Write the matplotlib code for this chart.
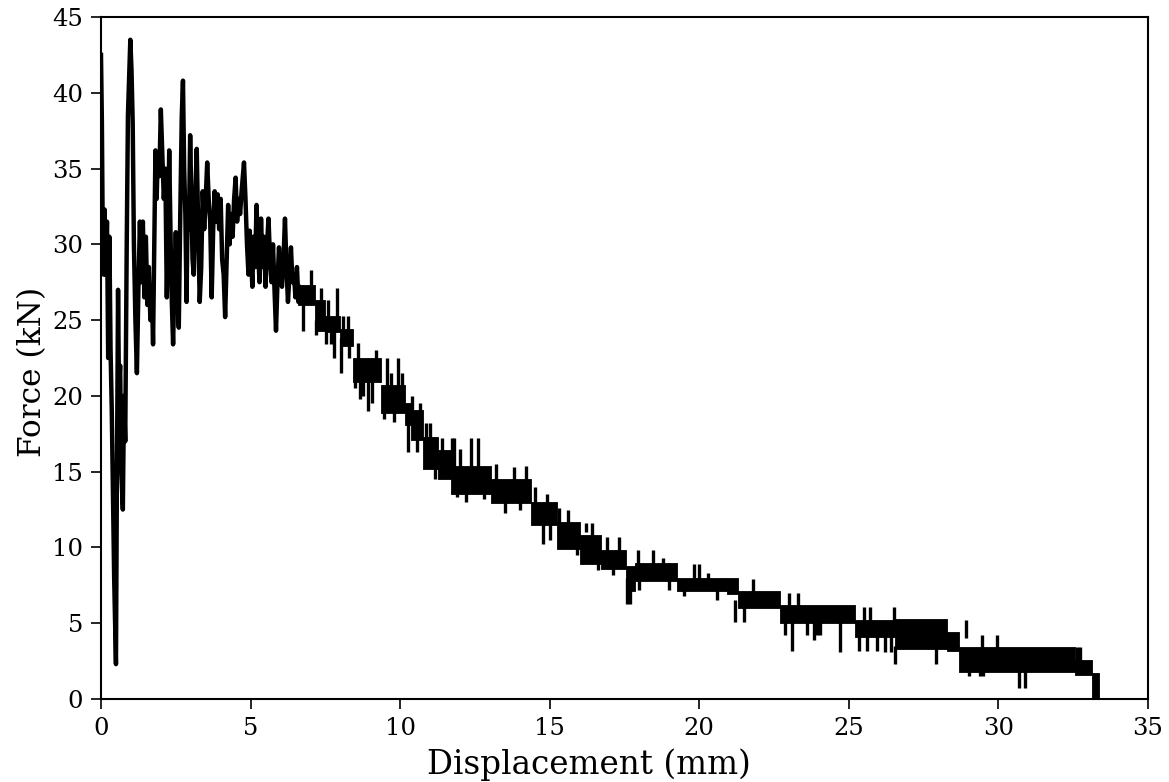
import matplotlib
matplotlib.use('Agg')
import matplotlib.pyplot as plt

# early, strongly oscillating part of the trace: (displacement mm, force kN)
early_pts = [
    (0.0, 42.5), (0.03, 38.0), (0.06, 30.0), (0.09, 28.0), (0.12, 32.3), (0.16, 28.0),
    (0.2, 31.5), (0.24, 22.5), (0.28, 30.5), (0.32, 23.0), (0.36, 19.0), (0.44, 8.0),
    (0.5, 2.3), (0.53, 14.0), (0.57, 27.0), (0.6, 20.5), (0.64, 22.0), (0.68, 15.0),
    (0.73, 12.5), (0.77, 20.0), (0.81, 17.0), (0.86, 30.0), (0.9, 38.5), (0.95, 41.5),
    (0.98, 43.5), (1.02, 41.5), (1.06, 38.0), (1.1, 30.0), (1.15, 25.0), (1.2, 21.5),
    (1.25, 27.0), (1.3, 31.5), (1.35, 27.5), (1.4, 31.5), (1.45, 26.5), (1.5, 30.5),
    (1.55, 26.0), (1.6, 28.5), (1.65, 25.0), (1.7, 27.0), (1.74, 23.4), (1.78, 30.0),
    (1.82, 36.2), (1.86, 33.0), (1.9, 36.0), (1.95, 34.5), (2.0, 38.9), (2.05, 36.0),
    (2.1, 33.0), (2.15, 35.0), (2.2, 26.5), (2.25, 32.0), (2.28, 36.2), (2.33, 30.0),
    (2.37, 26.0), (2.41, 23.4), (2.46, 28.0), (2.5, 30.8), (2.55, 27.0), (2.6, 24.5),
    (2.65, 32.0), (2.7, 38.5), (2.74, 40.8), (2.78, 35.0), (2.82, 32.0), (2.86, 26.2),
    (2.9, 33.0), (2.94, 31.0), (2.98, 37.2), (3.02, 33.0), (3.06, 29.0), (3.1, 28.0),
    (3.15, 33.0), (3.2, 36.3), (3.25, 31.0), (3.3, 26.2), (3.35, 28.5), (3.4, 33.5),
    (3.45, 31.0), (3.5, 33.0), (3.55, 35.4), (3.6, 33.0), (3.65, 31.5), (3.7, 26.5),
    (3.75, 31.0), (3.8, 33.5), (3.85, 31.5), (3.9, 33.3), (3.95, 31.0), (4.0, 33.0),
    (4.05, 29.0), (4.1, 28.0), (4.15, 25.2), (4.2, 29.0), (4.25, 32.6), (4.3, 30.0),
    (4.35, 32.0), (4.4, 30.5), (4.45, 33.0), (4.5, 34.4), (4.55, 31.5), (4.6, 33.0),
    (4.65, 32.0), (4.7, 33.5), (4.78, 35.4), (4.83, 33.0), (4.88, 30.0), (4.93, 28.0),
    (4.97, 30.9), (5.02, 29.0), (5.06, 27.2), (5.1, 30.5), (5.15, 28.5), (5.2, 32.6),
    (5.25, 29.5), (5.3, 27.5), (5.35, 31.7), (5.4, 28.5), (5.45, 30.5), (5.5, 27.2),
    (5.55, 30.0), (5.6, 31.7), (5.65, 29.0), (5.7, 27.5), (5.75, 30.0), (5.8, 27.0),
    (5.85, 24.3), (5.9, 27.5), (5.95, 29.8), (6.0, 28.0), (6.05, 27.2), (6.1, 29.0),
    (6.15, 31.7), (6.2, 28.5), (6.25, 26.2), (6.3, 28.0), (6.35, 29.8), (6.4, 27.5),
    (6.45, 28.0), (6.5, 26.5), (6.55, 28.5), (6.6, 26.2), (6.65, 27.2), (6.7, 26.5),
]

# later part: the signal toggles between quantised levels -> solid bands
# (x start, x end, low kN, high kN)
bands = [
    (6.6, 7.15, 26.0, 27.3), (7.15, 7.48, 24.3, 26.3), (7.48, 7.98, 24.2, 25.3),
    (7.98, 8.42, 23.3, 24.4), (8.42, 9.35, 20.9, 22.5), (9.35, 10.15, 18.9, 20.7),
    (10.15, 10.35, 18.1, 19.5), (10.35, 10.75, 17.1, 19.1), (10.75, 11.26, 15.2, 17.3),
    (11.26, 11.69, 14.5, 16.4), (11.69, 13.03, 13.5, 15.4), (13.03, 14.36, 12.9, 14.5),
    (14.36, 15.26, 11.5, 13.0), (15.26, 16.0, 9.9, 11.7), (16.0, 16.7, 8.9, 10.8),
    (16.7, 17.54, 8.6, 9.8), (17.54, 17.84, 7.1, 8.8), (17.84, 19.27, 7.8, 9.0),
    (19.27, 20.94, 7.1, 8.0), (20.94, 21.28, 6.9, 8.0), (21.28, 22.71, 6.0, 7.1),
    (22.71, 25.22, 5.0, 6.2), (25.22, 26.55, 4.1, 5.2), (26.55, 28.29, 3.3, 5.3),
    (28.29, 28.69, 3.2, 4.4), (28.69, 32.57, 1.8, 3.4), (32.57, 33.13, 1.6, 2.6),
    (33.13, 33.37, 0.0, 1.7),
]

# isolated spikes out of the bands: (x, low kN, high kN)
spikes = [
    (6.75, 24.3, 26.5), (7.01, 26.5, 28.3), (7.2, 24.0, 25.0), (7.35, 25.5, 27.1),
    (7.52, 23.4, 24.5), (7.6, 24.8, 26.3), (7.7, 23.4, 24.5), (7.78, 22.5, 24.5),
    (7.88, 24.8, 27.1), (8.02, 21.5, 23.8), (8.1, 24.0, 25.3), (8.25, 24.0, 25.3),
    (8.3, 22.5, 24.0), (8.5, 20.5, 21.5), (8.6, 22.0, 23.5), (8.65, 19.8, 21.5),
    (8.75, 20.0, 21.5), (8.92, 19.0, 21.5), (9.05, 19.5, 21.5), (9.2, 22.0, 23.0),
    (9.45, 18.5, 19.5), (9.55, 20.0, 22.5), (9.7, 20.0, 21.5), (9.8, 18.3, 19.5),
    (9.92, 20.0, 22.5), (10.05, 20.0, 21.5), (10.25, 16.3, 18.5), (10.4, 19.0, 20.0),
    (10.55, 16.3, 17.5), (10.65, 18.5, 19.5), (10.85, 16.5, 18.2), (11.0, 16.5, 18.2),
    (11.16, 14.5, 16.0), (11.4, 16.0, 17.2), (11.72, 15.0, 17.2), (11.8, 15.0, 17.2),
    (11.9, 13.3, 14.5), (12.0, 15.0, 16.5), (12.2, 13.0, 14.0), (12.36, 15.0, 17.2),
    (12.59, 15.0, 17.2), (12.8, 13.2, 14.5), (13.2, 14.0, 15.5), (13.5, 12.3, 13.5),
    (13.8, 14.0, 15.3), (14.0, 12.5, 13.5), (14.2, 14.0, 15.4), (14.5, 12.5, 14.0),
    (14.76, 10.2, 12.0), (14.9, 12.5, 13.5), (15.0, 10.5, 12.0), (15.3, 11.0, 12.6),
    (15.6, 11.0, 12.5), (15.9, 9.5, 10.5), (16.2, 11.0, 11.6), (16.43, 10.0, 11.6),
    (16.6, 8.5, 9.5), (16.93, 9.2, 10.7), (17.1, 8.2, 9.0), (17.33, 9.2, 10.7),
    (17.6, 6.3, 8.0), (17.7, 6.3, 8.0), (17.94, 8.2, 9.8), (17.98, 7.2, 8.2),
    (18.44, 8.2, 9.8), (18.8, 8.5, 9.3), (19.0, 7.2, 8.2), (19.5, 6.8, 7.5),
    (19.84, 7.5, 8.9), (20.0, 7.5, 8.9), (20.3, 7.5, 8.3), (20.6, 6.5, 7.5),
    (21.2, 5.1, 6.5), (21.5, 5.1, 6.5), (21.78, 6.5, 7.9), (22.88, 4.2, 5.5),
    (23.0, 6.0, 7.0), (23.1, 3.2, 5.5), (23.3, 6.0, 7.0), (23.6, 4.2, 5.5),
    (23.85, 3.9, 5.5), (23.95, 4.2, 5.5), (24.05, 4.2, 5.5), (24.7, 3.1, 5.5),
    (25.35, 3.2, 4.5), (25.5, 5.0, 6.1), (25.6, 3.2, 4.5), (25.7, 5.0, 6.1),
    (25.95, 3.2, 4.5), (26.2, 3.1, 4.5), (26.4, 3.1, 4.5), (26.5, 5.0, 6.1),
    (26.55, 2.3, 3.5), (27.9, 2.3, 3.5), (28.9, 4.0, 5.2), (29.0, 1.5, 2.5),
    (29.4, 1.5, 2.5), (29.46, 3.0, 4.2), (29.5, 1.5, 2.5), (29.96, 3.0, 4.2),
    (30.7, 0.7, 2.5), (30.9, 0.7, 2.5), (32.63, 2.3, 3.4), (32.73, 2.3, 3.4),
]

x_ticks = [0, 5, 10, 15, 20, 25, 30, 35]
y_ticks = [0, 5, 10, 15, 20, 25, 30, 35, 40, 45]

plt.rcParams['font.family'] = 'DejaVu Serif'

fig = plt.figure(figsize=(11.69, 7.82), dpi=100)
ax = fig.add_axes([101 / 1169, 1 - 699 / 782, 1047 / 1169, 682 / 782])

ex, ey = zip(*early_pts)
ax.plot(ex, ey, color='black', linewidth=3.2)
for x0, x1, lo, hi in bands:
    ax.fill_between([x0, x1], [lo, lo], [hi, hi], color='black', linewidth=0.6)
sx, slo, shi = zip(*spikes)
ax.vlines(sx, slo, shi, colors='black', linewidth=2.4)

ax.set_xlim(0, 35)
ax.set_ylim(0, 45)
ax.set_xticks(x_ticks)
ax.set_yticks(y_ticks)
ax.tick_params(direction='out', length=7, width=1.2, labelsize=17.5, pad=6,
               top=False, right=False)
for s in ax.spines.values():
    s.set_linewidth(1.5)

fig.text(589 / 1169, 1 - 765 / 782, 'Displacement (mm)', fontsize=23.5,
         ha='center', va='center')
fig.text(33 / 1169, 1 - 372 / 782, 'Force (kN)', fontsize=22.5, rotation=90,
         ha='center', va='center')

fig.savefig('out.png', dpi=100)
